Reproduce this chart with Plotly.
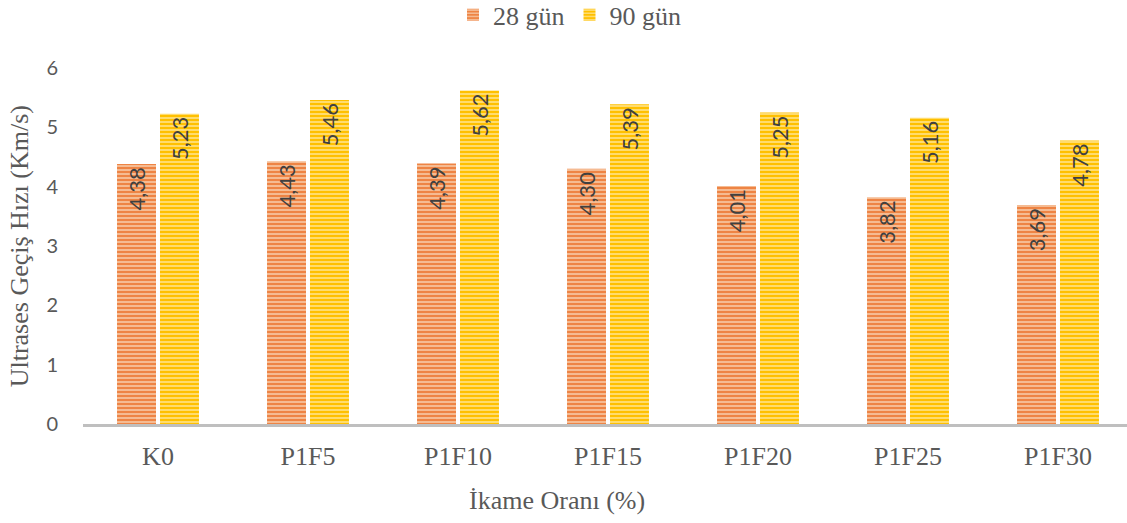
import plotly.graph_objects as go

categories = ["K0", "P1F5", "P1F10", "P1F15", "P1F20", "P1F25", "P1F30"]
gun28 = [4.38, 4.43, 4.39, 4.30, 4.01, 3.82, 3.69]
gun90 = [5.23, 5.46, 5.62, 5.39, 5.25, 5.16, 4.78]

sans = "Lato"
serif = "Times New Roman, Liberation Serif, DejaVu Serif, serif"
label_font = dict(family=sans, size=22, color="#404040")


def striped(name, values, dark, light):
    return go.Bar(
        name=name,
        x=categories,
        y=values,
        texttemplate="%{y:.2f}",
        textposition="inside",
        insidetextanchor="end",
        textangle=-90,
        textfont=label_font,
        constraintext="none",
        marker=dict(
            color=dark,
            line=dict(width=0),
            pattern=dict(shape="-", fgcolor=light, bgcolor=dark,
                         size=4, solidity=0.4, fillmode="replace"),
        ),
    )


fig = go.Figure()
fig.add_trace(striped("28 gün", gun28, "#EE8444", "#F8C9A6"))
fig.add_trace(striped("90 gün", gun90, "#FFC000", "#FFE38A"))

fig.update_layout(
    width=1127,
    height=523,
    margin=dict(l=83, r=0, t=68, b=99, autoexpand=False),
    paper_bgcolor="white",
    plot_bgcolor="white",
    separators=",.",
    barmode="group",
    bargap=0.427,
    bargroupgap=0.093,
    showlegend=True,
    legend=dict(
        orientation="h",
        x=0.466, xanchor="center",
        y=1.215, yanchor="top",
        font=dict(family=serif, size=26, color="#595959"),
        itemwidth=30,
        tracegroupgap=0,
    ),
    xaxis=dict(
        type="category",
        range=[-0.5, 6.46],
        showline=True,
        linecolor="#BFBFBF",
        linewidth=3,
        showgrid=False,
        ticks="",
        ticklabelstandoff=7,
        tickfont=dict(family=serif, size=26, color="#595959"),
    ),
    yaxis=dict(
        range=[0, 6],
        dtick=1,
        showgrid=False,
        zeroline=False,
        showline=False,
        ticks="",
        ticklabelstandoff=24,
        tickfont=dict(family=sans, size=20, color="#595959"),
    ),
    annotations=[
        dict(
            text="İkame Oranı (%)",
            xref="paper", yref="paper",
            x=0.454, y=-0.215,
            xanchor="center", yanchor="middle",
            showarrow=False,
            font=dict(family=serif, size=26, color="#595959"),
        ),
        dict(
            text="Ultrases Geçiş Hızı (Km/s)",
            xref="paper", yref="paper",
            x=-0.061, y=0.5,
            xanchor="center", yanchor="middle",
            textangle=-90,
            showarrow=False,
            font=dict(family=serif, size=26, color="#595959"),
        ),
    ],
)

fig.write_html("out.html")
